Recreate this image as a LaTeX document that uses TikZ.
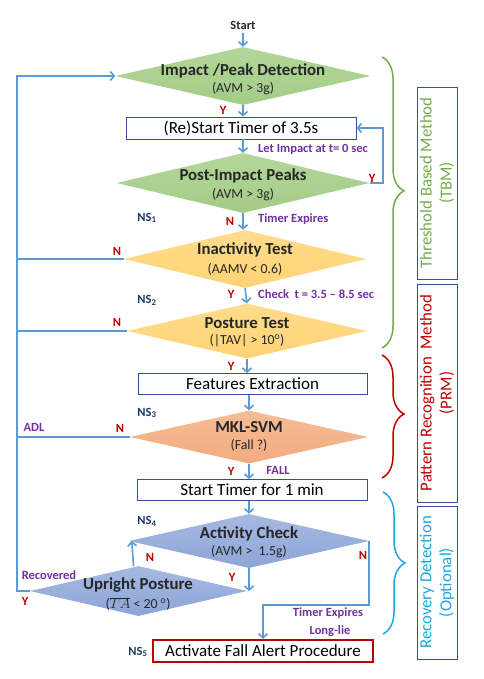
\documentclass[tikz,border=0pt]{standalone}
\usepackage{fontspec}
\setmainfont{Carlito}
\usetikzlibrary{arrows.meta,shapes.geometric,decorations.pathreplacing}
\definecolor{Flow}{HTML}{5B9BD5}
\definecolor{BoxLine}{HTML}{2F5597}
\definecolor{Note}{HTML}{7030A0}
\definecolor{Answer}{HTML}{C00000}
\definecolor{NSInk}{HTML}{1F3864}
\definecolor{GreenTop}{HTML}{B3D79A}
\definecolor{GreenBot}{HTML}{A3CC86}
\definecolor{GoldTop}{HTML}{FFDC8C}
\definecolor{GoldBot}{HTML}{FFD374}
\definecolor{SalmonTop}{HTML}{F6BD96}
\definecolor{SalmonBot}{HTML}{F2AB7E}
\definecolor{SlateTop}{HTML}{A6B9E1}
\definecolor{SlateBot}{HTML}{8DA5D7}
\definecolor{TBMc}{HTML}{70AD47}
\definecolor{PRMc}{HTML}{C00000}
\definecolor{RDc}{HTML}{1FA5DF}
\tikzset{
  dmd/.style={diamond,inner sep=0pt,draw=none},
  dmdgreen/.style={dmd,top color=GreenTop,bottom color=GreenBot},
  dmdgold/.style={dmd,top color=GoldTop,bottom color=GoldBot},
  dmdsalmon/.style={dmd,top color=SalmonTop,bottom color=SalmonBot},
  dmdslate/.style={dmd,top color=SlateTop,bottom color=SlateBot},
  dtitle/.style={font=\fontsize{16.8}{18}\selectfont\bfseries,text=black!85,inner sep=0pt},
  dsub/.style={font=\fontsize{13.8}{15}\selectfont,text=black!85,inner sep=0pt},
  stepbox/.style={draw=BoxLine,line width=0.9pt,inner sep=0pt,fill=white,font=\fontsize{17}{19}\selectfont},
  alertbox/.style={stepbox,draw=Answer,line width=2.4pt},
  yn/.style={text=Answer,font=\fontsize{12.5}{14}\selectfont\bfseries,inner sep=0pt},
  note/.style={text=Note,font=\fontsize{12.5}{14}\selectfont\bfseries,inner sep=0pt},
  ns/.style={text=NSInk,font=\fontsize{12.5}{14}\selectfont\bfseries,inner sep=0pt},
  arrow/.style={-{Straight Barb[length=4pt,width=9pt]},line width=1.6pt,draw=Flow},
  link/.style={line width=1.6pt,draw=Flow},
  sidebox/.style={draw=BoxLine,line width=0.9pt,rotate=90,align=center,inner sep=0pt,minimum height=40pt,font=\fontsize{16.8}{20}\selectfont},
  group/.style={decorate,decoration={brace,amplitude=22pt,aspect=#1},line width=1.5pt}
}
\begin{document}
\begin{tikzpicture}[x=1pt,y=-1pt]
\useasboundingbox (0,0) rectangle (483,679);

% flow nodes
\node[text=black!85,font=\fontsize{12.5}{14}\selectfont\bfseries] (start) at (243,25) {Start};
\node[dmdgreen,minimum width=255pt,minimum height=58pt] (impact) at (243,76) {};
\node[dtitle] (impactT) at (243,71) {Impact /Peak Detection};
\node[dsub] (impactS) at (243,89) {(AVM > 3g)};
\node[stepbox,minimum width=230pt,minimum height=22pt] (restart) at (241,128) {(Re)Start Timer of 3.5s};
\node[dmdgreen,minimum width=253pt,minimum height=60pt] (post) at (243,183) {};
\node[dtitle] (postT) at (243,176) {Post-Impact Peaks};
\node[dsub] (postS) at (243,195) {(AVM > 3g)};
\node[dmdgold,minimum width=242pt,minimum height=58pt] (inact) at (245,259) {};
\node[dtitle] (inactT) at (245,250) {Inactivity Test};
\node[dsub] (inactS) at (245,269) {(AAMV < 0.6)};
\node[dmdgold,minimum width=240pt,minimum height=55pt] (posture) at (247,331) {};
\node[dtitle] (postureT) at (247,323) {Posture Test};
\node[dsub] (postureS) at (247,341) {(|TAV| > 10\textsuperscript{o})};
\node[stepbox,minimum width=229pt,minimum height=21pt] (feat) at (252.5,384) {Features Extraction};
\node[dmdsalmon,minimum width=238pt,minimum height=53pt] (mkl) at (249,437) {};
\node[dtitle] (mklT) at (249,427) {MKL-SVM};
\node[dsub] (mklS) at (249,445) {(Fall ?)};
\node[stepbox,minimum width=230pt,minimum height=21pt] (timer) at (252,490) {Start Timer for 1 min};
\node[dmdslate,minimum width=240pt,minimum height=54pt] (activity) at (249,541) {};
\node[dtitle] (activityT) at (249,534) {Activity Check};
\node[dsub] (activityS) at (249,552) {(AVM > ~1.5g)};
\node[dmdslate,minimum width=217pt,minimum height=50pt] (upright) at (138.5,591) {};
\node[dtitle] (uprightT) at (138,585) {Upright Posture};
\node[dsub] (uprightS) at (138,604) {($\overline{TA}$ < 20 \textsuperscript{o})};
\node[alertbox,minimum width=220pt,minimum height=22pt] (alert) at (263,651) {Activate Fall Alert Procedure};
\coordinate (lt) at (17,76);

% connectors
\draw[arrow] (start) -- (impact.north);
\draw[arrow] (impact.south) -- (impact.south |- restart.north);
\draw[arrow] (restart.south -| post.north) -- (post.north);
\draw[arrow] (post.east) -- ++(13,0) |- (restart.east);
\draw[arrow] (post.south) -- (post.south |- inact.north);
\draw[arrow] (inact.south) -- (posture.north);
\draw[arrow] (posture.south) -- (posture.south |- feat.north);
\draw[arrow] (feat.south -| mkl.north) -- (mkl.north);
\draw[arrow] (mkl.south) -- (mkl.south |- timer.north);
\draw[arrow] (timer.south -| activity.north) -- (activity.north);
\draw[arrow] (activity.south) -- (activity.south |- upright.east);
\draw[arrow] ([xshift=-5pt]upright.north) -- ([xshift=3pt]activity.west);
\draw[arrow] (activity.east) -- ++(0,64) -| (alert.north);
\draw[arrow] (upright.west) -| (lt) -- (impact.west);
\draw[link] (inact.west) -- (inact.west -| lt);
\draw[link] (posture.west) -- (posture.west -| lt);
\draw[link] (mkl.west) -- (mkl.west -| lt);

% labels
\node[yn] (y1) at (223,110) {Y};
\node[note,anchor=west] (n1) at (258,149) {Let Impact at t= 0 sec};
\node[yn] (y2) at (372,178) {Y};
\node[ns] (ns1) at (147,218) {NS\textsubscript{1}};
\node[yn] (n2) at (230,221) {N};
\node[note,anchor=west] (n3) at (258,219) {Timer Expires};
\node[yn] (n4) at (117,251) {N};
\node[yn] (y3) at (231,294) {Y};
\node[note,anchor=west] (n5) at (258,294) {Check~ t = 3.5 -- 8.5 sec};
\node[ns] (ns2) at (147,300) {NS\textsubscript{2}};
\node[yn] (n6) at (117,322) {N};
\node[yn] (y4) at (231,366) {Y};
\node[ns] (ns3) at (147,413) {NS\textsubscript{3}};
\node[yn] (n7) at (120,428) {N};
\node[note] (adl) at (34,427) {ADL};
\node[yn] (y5) at (231,471) {Y};
\node[note] (fall) at (278,470) {FALL};
\node[ns] (ns4) at (147,521) {NS\textsubscript{4}};
\node[yn] (n8) at (150,557) {N};
\node[yn] (n9) at (363,555) {N};
\node[yn] (y6) at (232,577) {Y};
\node[note] (rec) at (49,575) {Recovered};
\node[yn] (y7) at (25,601) {Y};
\node[note] (n10) at (328,613) {Timer Expires};
\node[note] (n11) at (330,631) {Long-lie};
\node[ns] (ns5) at (138,652) {NS\textsubscript{5}};

% method groups
\draw[group=0.46,draw=TBMc] (382,57) -- (382,348);
\draw[group=0.48,draw=PRMc] (382,355) -- (382,478);
\draw[group=0.5,draw=RDc] (383,492) -- (383,634);
\node[sidebox,minimum width=192pt,text=TBMc] (tbm) at (437,183) {Threshold Based Method\\(TBM)};
\node[sidebox,minimum width=218pt,text=PRMc] (prm) at (437,393) {Pattern Recognition~ Method\\(PRM)};
\node[sidebox,minimum width=153pt,text=RDc] (rd) at (437,582.5) {Recovery Detection\\(Optional)};
\end{tikzpicture}
\end{document}
